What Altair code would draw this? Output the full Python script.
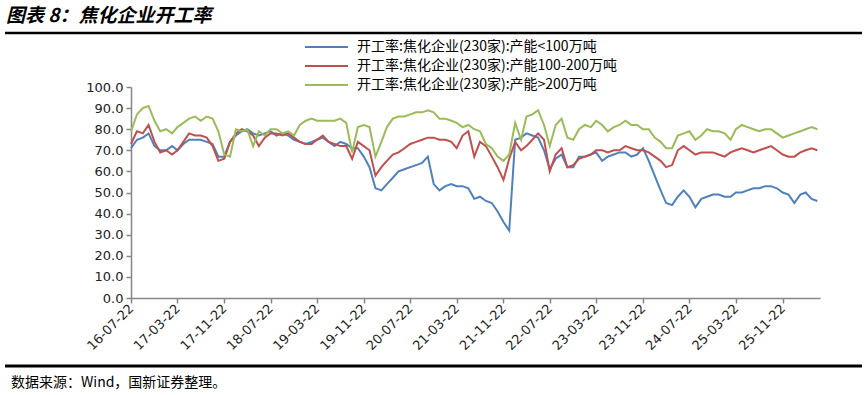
import altair as alt
import pandas as pd

# ---------------- data (monthly samples) ----------------
START = "2016-07-22"
N_POINTS = 119
dates = pd.date_range(START, periods=N_POINTS, freq=pd.DateOffset(months=1))

blue = [71, 75, 76, 78, 72, 70, 70, 72, 70, 73,
        75, 75, 75, 74, 73, 67, 67, 74, 77, 79,
        80, 78, 77, 78, 79, 77, 78, 77, 75, 74,
        73, 74, 75, 76, 74, 72, 74, 73, 71, 71,
        67, 62, 52, 51, 54, 57, 60, 61, 62, 63,
        64, 67, 54, 51, 53, 54, 53, 53, 52, 47,
        48, 46, 45, 41, 36, 32, 75, 76, 78, 77,
        76, 70, 61, 66, 68, 62, 62, 67, 67, 68,
        69, 65, 67, 68, 69, 69, 67, 68, 71, 65,
        58, 51, 45, 44, 48, 51, 48, 43, 47, 48,
        49, 49, 48, 48, 50, 50, 51, 52, 52, 53,
        53, 52, 50, 49, 45, 49, 50, 47, 46]

red = [73, 79, 78, 82, 74, 69, 70, 68, 70, 74,
       78, 77, 77, 76, 72, 65, 66, 74, 78, 80,
       79, 77, 72, 76, 78, 78, 77, 78, 76, 74,
       73, 73, 75, 77, 74, 73, 72, 72, 66, 74,
       72, 70, 58, 62, 65, 68, 69, 71, 73, 74,
       75, 76, 76, 75, 75, 74, 71, 77, 79, 67,
       74, 72, 67, 62, 56, 66, 74, 70, 72, 75,
       78, 75, 60, 68, 71, 62, 63, 66, 67, 68,
       70, 70, 69, 70, 70, 72, 71, 70, 70, 69,
       67, 65, 62, 63, 70, 72, 70, 68, 69, 69,
       69, 68, 67, 69, 70, 71, 70, 69, 70, 71,
       72, 70, 68, 67, 67, 69, 70, 71, 70]

green = [79, 87, 90, 91, 84, 79, 80, 78, 81, 83,
         85, 86, 84, 86, 85, 79, 68, 67, 80, 79,
         80, 72, 79, 77, 80, 80, 78, 79, 77, 82,
         84, 85, 84, 84, 84, 84, 85, 83, 69, 81,
         82, 81, 67, 74, 81, 85, 86, 86, 87, 88,
         88, 89, 88, 85, 85, 84, 83, 81, 82, 80,
         79, 73, 71, 67, 65, 68, 83, 75, 86, 87,
         89, 82, 72, 82, 85, 76, 75, 80, 82, 81,
         84, 82, 79, 81, 82, 84, 82, 82, 80, 80,
         76, 74, 71, 71, 77, 78, 79, 75, 77, 80,
         79, 79, 78, 75, 80, 82, 81, 80, 79, 80,
         80, 78, 76, 77, 78, 79, 80, 81, 80]

series_names = [
    "开工率:焦化企业(230家):产能<100万吨",
    "开工率:焦化企业(230家):产能100-200万吨",
    "开工率:焦化企业(230家):产能>200万吨",
]
series_colors = ["#4F81BD", "#C0504D", "#9BBB59"]

x_tick_dates = [
    "2016-07-22", "2017-03-22", "2017-11-22", "2018-07-22", "2019-03-22",
    "2019-11-22", "2020-07-22", "2021-03-22", "2021-11-22", "2022-07-22",
    "2023-03-22", "2023-11-22", "2024-07-22", "2025-03-22", "2025-11-22",
]
x_domain = ["2016-07-22", "2026-06-05"]
y_ticks = [0, 10, 20, 30, 40, 50, 60, 70, 80, 90, 100]

title_text = "图表 8：焦化企业开工率"
source_text = "数据来源：Wind，国新证券整理。"

# ---------------- build table ----------------
rows = []
for name, vals in zip(series_names, [blue, red, green]):
    for d, v in zip(dates, vals):
        rows.append({"date": d.strftime("%Y-%m-%d"), "series": name, "value": v})
df = pd.DataFrame(rows)


def dt(s):
    y, m, d = (int(p) for p in s.split("-"))
    return alt.DateTime(year=y, month=m, date=d, utc=True)


W, H = 689, 211
color_scale = alt.Scale(domain=series_names, range=series_colors)

x_enc = alt.X(
    "date:T",
    title=None,
    scale=alt.Scale(domain=[dt(x_domain[0]), dt(x_domain[1])]),
    axis=alt.Axis(
        values=[dt(s) for s in x_tick_dates],
        labelExpr="utcFormat(datum.value, '%y-%m-%d')",
        labelAngle=-45,
        labelAlign="right",
        labelBaseline="middle",
        labelFont="DejaVu Sans",
        labelFontSize=13,
        labelColor="#222222",
        labelPadding=3,
        tickSize=5,
        tickColor="#868686",
        domainColor="#868686",
        domainWidth=1.5,
        tickWidth=1.5,
        grid=False,
        labelOverlap=False,
        labelFlush=False,
    ),
)
y_enc = alt.Y(
    "value:Q",
    title=None,
    scale=alt.Scale(domain=[0, 100], nice=False, zero=True),
    axis=alt.Axis(
        values=y_ticks,
        format=".1f",
        labelFont="DejaVu Sans",
        labelFontSize=13,
        labelColor="#222222",
        labelPadding=3,
        tickSize=5,
        tickColor="#868686",
        domainColor="#868686",
        domainWidth=1.5,
        tickWidth=1.5,
        grid=False,
    ),
)

base = alt.Chart(df)
layers = []
for name in series_names:
    layers.append(
        base.transform_filter(alt.datum.series == name)
        .mark_line(strokeWidth=2, clip=False)
        .encode(
            x=x_enc,
            y=y_enc,
            color=alt.Color("series:N", scale=color_scale, legend=None),
        )
    )

one = pd.DataFrame({"k": [0]})

# manual legend
legend_y = [-40, -21, -2]
for name, col, ly in zip(series_names, series_colors, legend_y):
    layers.append(
        alt.Chart(one).mark_rule(strokeWidth=2, color=col).encode(
            x=alt.value(174), x2=alt.value(217), y=alt.value(ly)
        )
    )
    layers.append(
        alt.Chart(pd.DataFrame({"t": [name]})).mark_text(
            align="left", baseline="middle", font="Noto Sans CJK SC",
            fontSize=14, color="#000000"
        ).encode(text="t:N", x=alt.value(226), y=alt.value(ly))
    )

# title, separators, source
layers.append(
    alt.Chart(pd.DataFrame({"t": [title_text]})).mark_text(
        align="left", baseline="alphabetic", font="Noto Sans CJK SC",
        fontSize=19, fontWeight="bold", fontStyle="italic", color="#000000"
    ).encode(text="t:N", x=alt.value(-125), y=alt.value(-65))
)
layers.append(
    alt.Chart(one).mark_rule(strokeWidth=2.5, color="#000000").encode(
        x=alt.value(-126), x2=alt.value(731), y=alt.value(-54)
    )
)
layers.append(
    alt.Chart(one).mark_rule(strokeWidth=3, color="#000000").encode(
        x=alt.value(-126), x2=alt.value(731), y=alt.value(279)
    )
)
layers.append(
    alt.Chart(pd.DataFrame({"t": [source_text]})).mark_text(
        align="left", baseline="alphabetic", font="Noto Sans CJK SC",
        fontSize=14, color="#000000"
    ).encode(text="t:N", x=alt.value(-120), y=alt.value(300))
)

chart = (
    alt.layer(*layers)
    .properties(
        width=W,
        height=H,
        autosize="none",
        padding={"left": 131, "top": 87, "right": 48, "bottom": 97},
        background="white",
    )
    .configure_view(stroke=None)
)

chart.save("out.html", embed_options={"renderer": "svg", "actions": False})
